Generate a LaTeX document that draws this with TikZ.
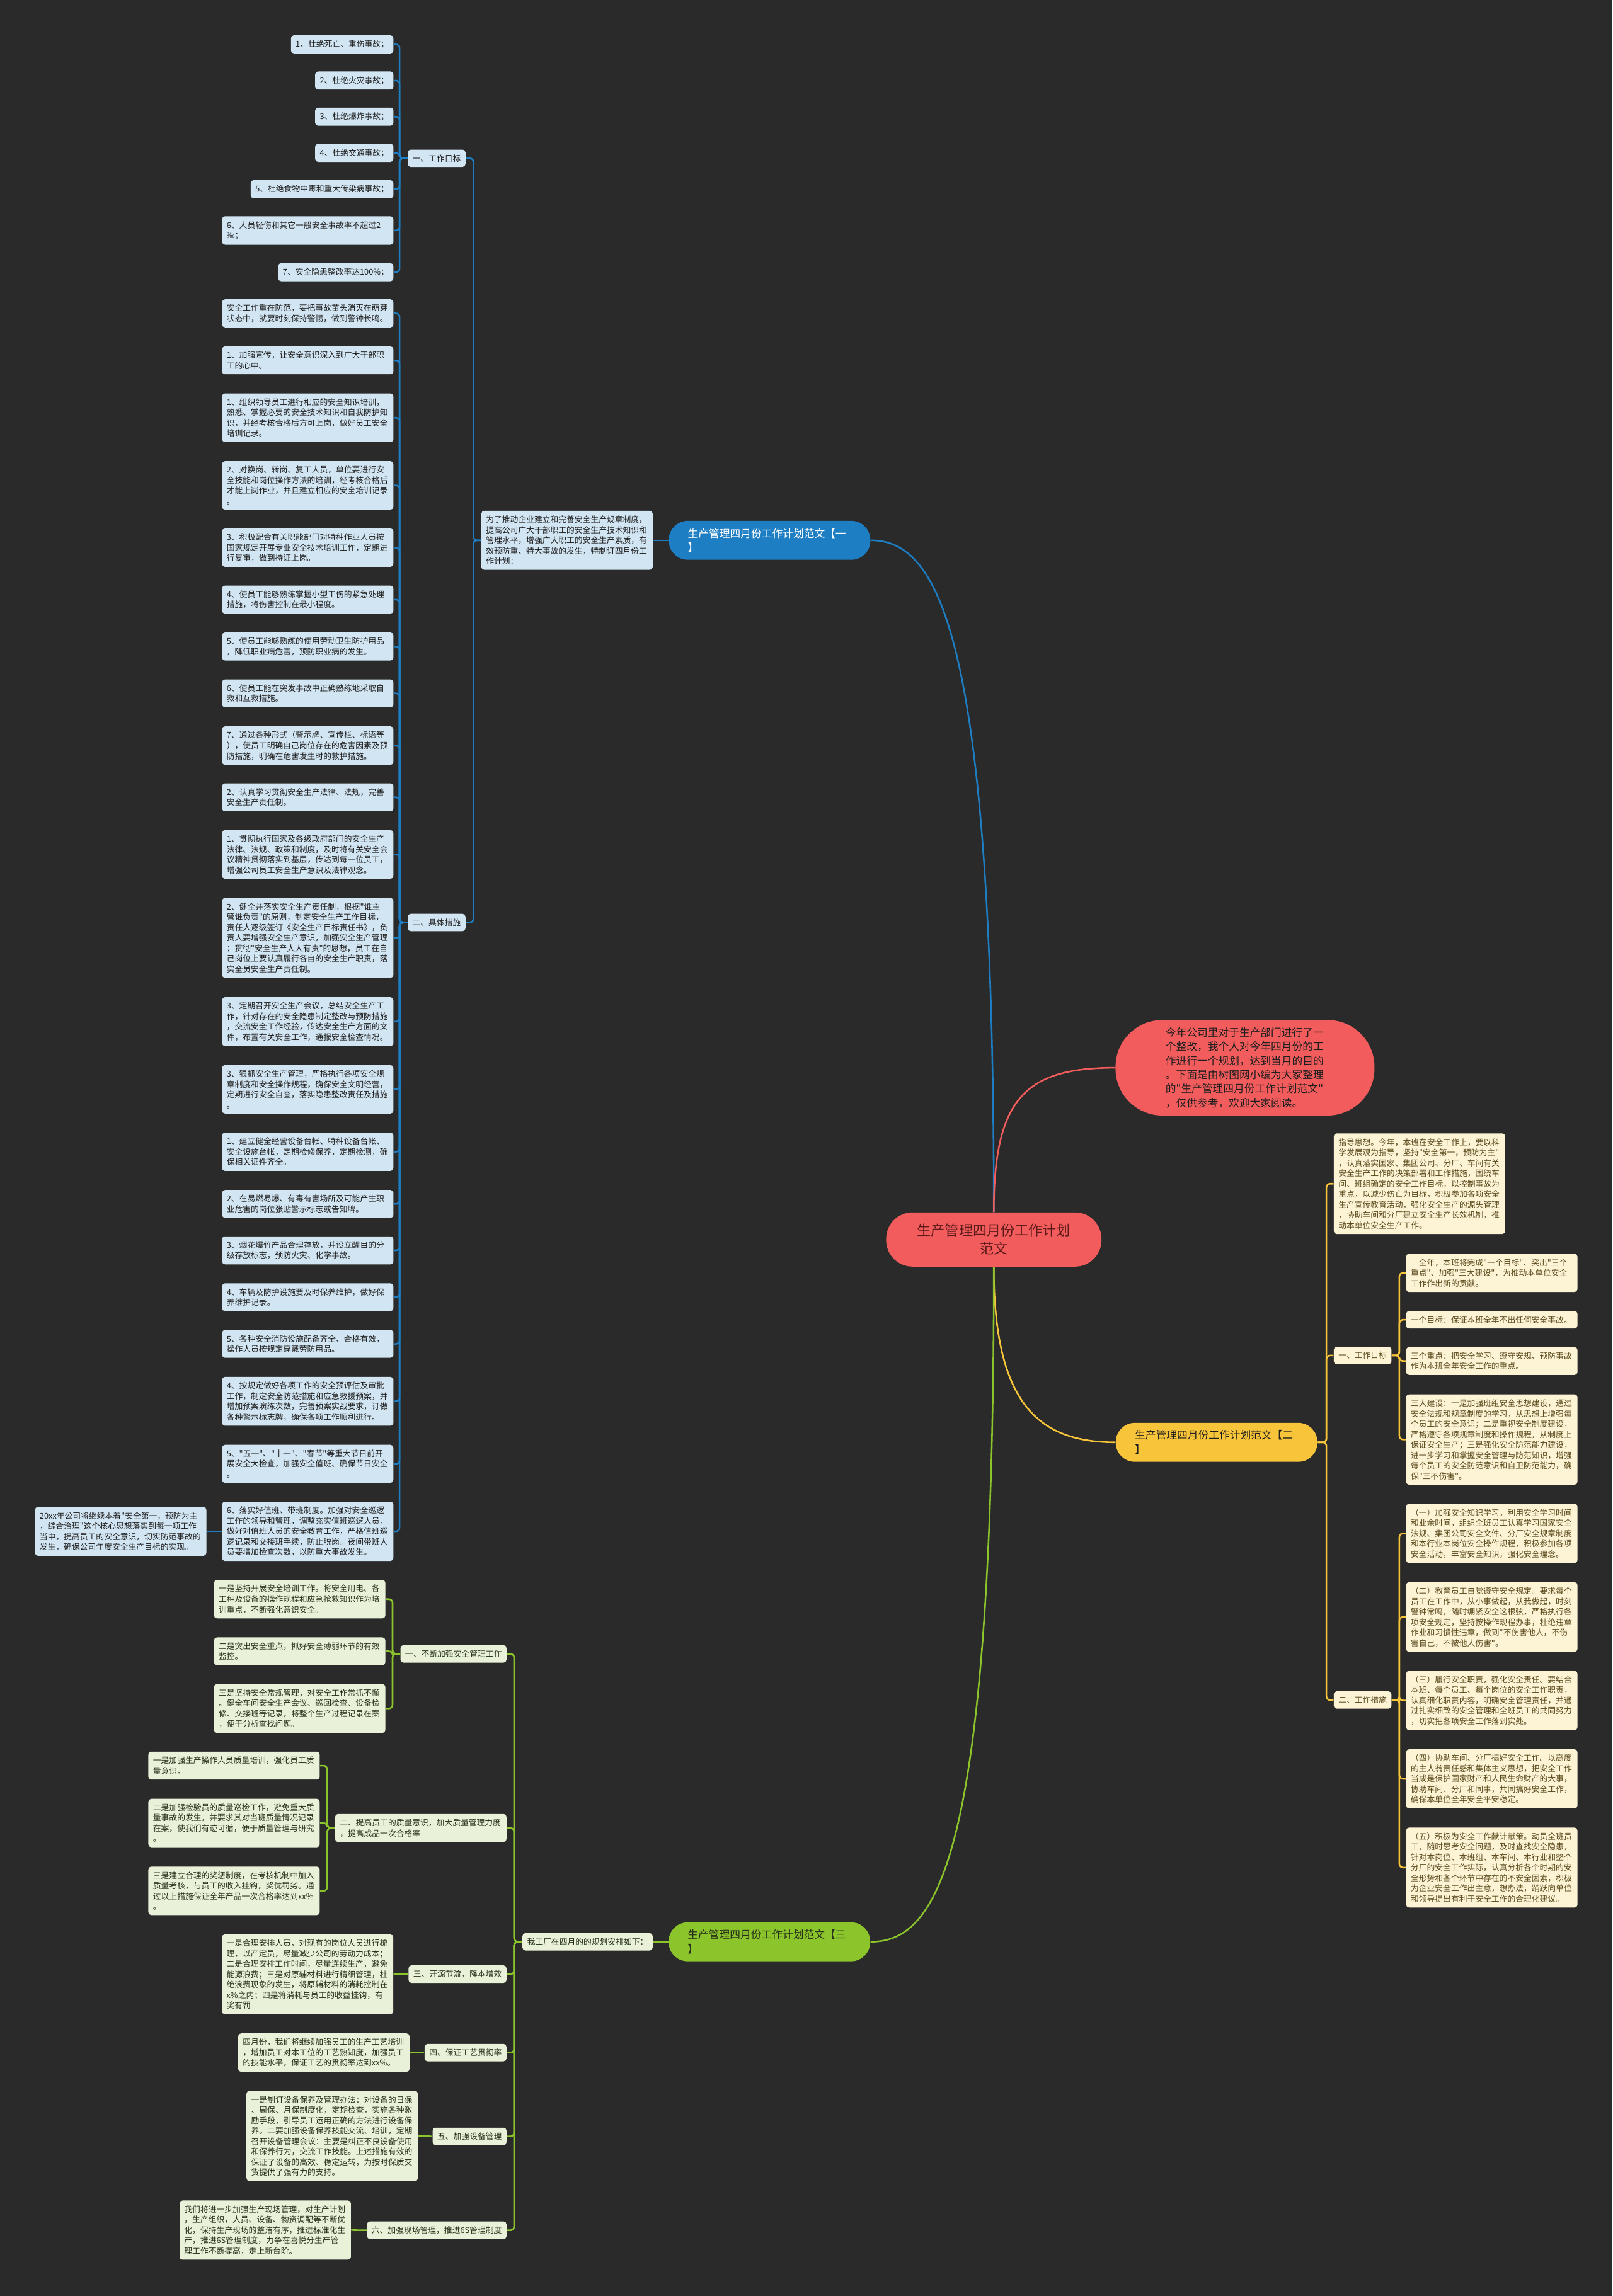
\documentclass[tikz,border=0pt]{standalone}
\usepackage{fontspec}
\setmainfont{Noto Sans CJK SC}[Ligatures=TeXOff]
\usepackage{tikz}
\definecolor{mmbg}{HTML}{2A2A2A}
\definecolor{mmblue}{HTML}{1E7EC3}
\definecolor{mmbluel}{HTML}{D2E5F3}
\definecolor{mmred}{HTML}{F25C5C}
\definecolor{mmdred}{HTML}{5C1A1A}
\definecolor{mmyel}{HTML}{F7C43A}
\definecolor{mmyell}{HTML}{FDF3D5}
\definecolor{mmbrown}{HTML}{5A4A1C}
\definecolor{mmgreen}{HTML}{8CC42C}
\definecolor{mmgreenl}{HTML}{E9F1D8}
\definecolor{mmgdark}{HTML}{26301A}
\definecolor{mmdark}{HTML}{1E1E1E}
\tikzset{
  leaf/.style={inner xsep=3.2pt,inner ysep=3.4pt,font=\fontsize{5.5pt}{7.1pt}\selectfont,align=left,rounded corners=2pt},
  bleaf/.style={leaf,fill=mmbluel,text=mmdark},
  bleafw/.style={bleaf,text width=110.6pt},
  yleaf/.style={leaf,fill=mmyell,text=mmbrown},
  yleafw/.style={yleaf,text width=110.6pt},
  gleaf/.style={leaf,fill=mmgreenl,text=mmgdark},
  gleafw/.style={gleaf,text width=110.6pt},
  pill/.style={font=\fontsize{7.2pt}{9.6pt}\selectfont,align=left,text width=111.6pt,inner xsep=13pt,inner ysep=3pt,minimum height=26.6pt,rounded corners=13pt},
  cnode/.style={fill=mmred,text=mmdred,font=\fontsize{9.5pt}{12.5pt}\selectfont,align=center,text width=105pt,inner xsep=0pt,minimum width=147pt,minimum height=37pt,rounded corners=18pt},
  intro/.style={fill=mmred,text=mmdark,font=\fontsize{7.2pt}{9.6pt}\selectfont,align=left,text width=108.5pt,inner xsep=0pt,minimum width=176.8pt,minimum height=65.2pt,rounded corners=32pt},
  bline/.style={draw=mmblue,line width=1.1pt,rounded corners=2.5pt},
  yline/.style={draw=mmyel,line width=1.1pt,rounded corners=2.5pt},
  gline/.style={draw=mmgreen,line width=1.1pt,rounded corners=2.5pt},
  rline/.style={draw=mmred,line width=1.1pt},
}
\begin{document}
\begin{tikzpicture}[x=1pt,y=-1pt]
  \fill[mmbg] (0,0) rectangle (1101,1568);
  \useasboundingbox (0,0) rectangle (1101,1568);
  \node[cnode] (cen) at (678.5,846.5) {生产管理四月份工作计划\\范文};
  \node[intro] (intro) at (850,729.2) {今年公司里对于生产部门进行了一\\个整改，我个人对今年四月份的工\\作进行一个规划，达到当月的目的\\。下面是由树图网小编为大家整理\\的"生产管理四月份工作计划范文"\\，仅供参考，欢迎大家阅读。};
  \node[pill,fill=mmblue,text=white] (b1) at (525.4,369) {生产管理四月份工作计划范文【一\\】};
  \node[pill,fill=mmyel,text=mmdark] (b2) at (830.6,985) {生产管理四月份工作计划范文【二\\】};
  \node[pill,fill=mmgreen,text=mmgdark] (b3) at (525.3,1326.1) {生产管理四月份工作计划范文【三\\】};

  \node[bleafw,anchor=east] (b1t) at (445.8,369) {为了推动企业建立和完善安全生产规章制度，\\提高公司广大干部职工的安全生产技术知识和\\管理水平，增强广大职工的安全生产素质，有\\效预防重、特大事故的发生，特制订四月份工\\作计划：};
  \node[bleaf,anchor=east] (b1g) at (318,108.1) {一、工作目标};
  \node[bleaf,anchor=east] (b1m) at (318,630) {二、具体措施};
  \node[bleaf,anchor=east] (ga1) at (268.8,30.3) {1、杜绝死亡、重伤事故；};
  \node[bleaf,anchor=east] (ga2) at (268.8,55) {2、杜绝火灾事故；};
  \node[bleaf,anchor=east] (ga3) at (268.8,79.7) {3、杜绝爆炸事故；};
  \node[bleaf,anchor=east] (ga4) at (268.8,104.4) {4、杜绝交通事故；};
  \node[bleaf,anchor=east] (ga5) at (268.8,129.2) {5、杜绝食物中毒和重大传染病事故；};
  \node[bleafw,anchor=east] (ga6) at (268.8,157.4) {6、人员轻伤和其它一般安全事故率不超过2\\‰；};
  \node[bleaf,anchor=east] (ga7) at (268.8,185.9) {7、安全隐患整改率达100\%；};

  \node[bleafw,anchor=east] (cs1) at (268.8,214) {安全工作重在防范，要把事故苗头消灭在萌芽\\状态中，就要时刻保持警惕，做到警钟长鸣。};
  \node[bleafw,anchor=east] (cs2) at (268.8,246.1) {1、加强宣传，让安全意识深入到广大干部职\\工的心中。};
  \node[bleafw,anchor=east] (cs3) at (268.8,285.3) {1、组织领导员工进行相应的安全知识培训，\\熟悉、掌握必要的安全技术知识和自我防护知\\识，并经考核合格后方可上岗，做好员工安全\\培训记录。};
  \node[bleafw,anchor=east] (cs4) at (268.8,331.5) {2、对换岗、转岗、复工人员，单位要进行安\\全技能和岗位操作方法的培训，经考核合格后\\才能上岗作业，并且建立相应的安全培训记录\\。};
  \node[bleafw,anchor=east] (cs5) at (268.8,374) {3、积极配合有关职能部门对特种作业人员按\\国家规定开展专业安全技术培训工作，定期进\\行复审，做到持证上岗。};
  \node[bleafw,anchor=east] (cs6) at (268.8,409.5) {4、使员工能够熟练掌握小型工伤的紧急处理\\措施，将伤害控制在最小程度。};
  \node[bleafw,anchor=east] (cs7) at (268.8,441.5) {5、使员工能够熟练的使用劳动卫生防护用品\\，降低职业病危害，预防职业病的发生。};
  \node[bleafw,anchor=east] (cs8) at (268.8,473.5) {6、使员工能在突发事故中正确熟练地采取自\\救和互救措施。};
  \node[bleafw,anchor=east] (cs9) at (268.8,509.2) {7、通过各种形式（警示牌、宣传栏、标语等\\），使员工明确自己岗位存在的危害因素及预\\防措施，明确在危害发生时的救护措施。};
  \node[bleafw,anchor=east] (cs10) at (268.8,544.5) {2、认真学习贯彻安全生产法律、法规，完善\\安全生产责任制。};
  \node[bleafw,anchor=east] (cs11) at (268.8,583.5) {1、贯彻执行国家及各级政府部门的安全生产\\法律、法规、政策和制度，及时将有关安全会\\议精神贯彻落实到基层，传达到每一位员工，\\增强公司员工安全生产意识及法律观念。};
  \node[bleafw,anchor=east] (cs12) at (268.8,640.5) {2、健全并落实安全生产责任制，根据"谁主\\管谁负责"的原则，制定安全生产工作目标，\\责任人逐级签订《安全生产目标责任书》，负\\责人要增强安全生产意识，加强安全生产管理\\；贯彻"安全生产人人有责"的思想，员工在自\\己岗位上要认真履行各自的安全生产职责，落\\实全员安全生产责任制。};
  \node[bleafw,anchor=east] (cs13) at (268.8,697.7) {3、定期召开安全生产会议，总结安全生产工\\作，针对存在的安全隐患制定整改与预防措施\\，交流安全工作经验，传达安全生产方面的文\\件，布置有关安全工作，通报安全检查情况。};
  \node[bleafw,anchor=east] (cs14) at (268.8,743.9) {3、狠抓安全生产管理，严格执行各项安全规\\章制度和安全操作规程，确保安全文明经营，\\定期进行安全自查，落实隐患整改责任及措施\\。};
  \node[bleafw,anchor=east] (cs15) at (268.8,786.6) {1、建立健全经营设备台帐、特种设备台帐、\\安全设施台帐，定期检修保养，定期检测，确\\保相关证件齐全。};
  \node[bleafw,anchor=east] (cs16) at (268.8,822.2) {2、在易燃易爆、有毒有害场所及可能产生职\\业危害的岗位张贴警示标志或告知牌。};
  \node[bleafw,anchor=east] (cs17) at (268.8,853.9) {3、烟花爆竹产品合理存放，并设立醒目的分\\级存放标志，预防火灾、化学事故。};
  \node[bleafw,anchor=east] (cs18) at (268.8,885.9) {4、车辆及防护设施要及时保养维护，做好保\\养维护记录。};
  \node[bleafw,anchor=east] (cs19) at (268.8,917.8) {5、各种安全消防设施配备齐全、合格有效，\\操作人员按规定穿戴劳防用品。};
  \node[bleafw,anchor=east] (cs20) at (268.8,957) {4、按规定做好各项工作的安全预评估及审批\\工作，制定安全防范措施和应急救援预案，并\\增加预案演练次数，完善预案实战要求，订做\\各种警示标志牌，确保各项工作顺利进行。};
  \node[bleafw,anchor=east] (cs21) at (268.8,999.7) {5、"五一"、"十一"、"春节"等重大节日前开\\展安全大检查，加强安全值班、确保节日安全\\。};
  \node[bleafw,anchor=east] (cs22) at (268.8,1045.8) {6、落实好值班、带班制度。加强对安全巡逻\\工作的领导和管理，调整充实值班巡逻人员，\\做好对值班人员的安全教育工作，严格值班巡\\逻记录和交接班手续，防止脱岗。夜间带班人\\员要增加检查次数，以防重大事故发生。};
  \node[bleafw,anchor=east] (cs23) at (141.1,1045.8) {20xx年公司将继续本着"安全第一，预防为主\\，综合治理"这个核心思想落实到每一项工作\\当中，提高员工的安全意识，切实防范事故的\\发生，确保公司年度安全生产目标的实现。};

  \node[yleafw,anchor=west] (b2s) at (910.4,808.4) {指导思想。今年，本班在安全工作上，要以科\\学发展观为指导，坚持"安全第一，预防为主"\\，认真落实国家、集团公司、分厂、车间有关\\安全生产工作的决策部署和工作措施，围绕车\\间、班组确定的安全工作目标，以控制事故为\\重点，以减少伤亡为目标，积极参加各项安全\\生产宣传教育活动，强化安全生产的源头管理\\，协助车间和分厂建立安全生产长效机制，推\\动本单位安全生产工作。};
  \node[yleaf,anchor=west] (b2g) at (910.4,925.7) {一、工作目标};
  \node[yleaf,anchor=west] (b2m) at (910.4,1161) {二、工作措施};
  \node[yleafw,anchor=west] (yg1) at (959.8,869.3) {\hspace*{1em}全年，本班将完成"一个目标"、突出"三个\\重点"、加强"三大建设"，为推动本单位安全\\工作作出新的贡献。};
  \node[yleafw,anchor=west] (yg2) at (959.8,901.3) {一个目标：保证本班全年不出任何安全事故。};
  \node[yleafw,anchor=west] (yg3) at (959.8,929.5) {三个重点：把安全学习、遵守安规、预防事故\\作为本班全年安全工作的重点。};
  \node[yleafw,anchor=west] (yg4) at (959.8,983.1) {三大建设：一是加强班组安全思想建设，通过\\安全法规和规章制度的学习，从思想上增强每\\个员工的安全意识；二是重视安全制度建设，\\严格遵守各项规章制度和操作规程，从制度上\\保证安全生产；三是强化安全防范能力建设，\\进一步学习和掌握安全管理与防范知识，增强\\每个员工的安全防范意识和自卫防范能力，确\\保"三不伤害"。};
  \node[yleafw,anchor=west] (ym1) at (959.8,1047.2) {（一）加强安全知识学习。利用安全学习时间\\和业余时间，组织全班员工认真学习国家安全\\法规、集团公司安全文件、分厂安全规章制度\\和本行业本岗位安全操作规程，积极参加各项\\安全活动，丰富安全知识，强化安全理念。};
  \node[yleafw,anchor=west] (ym2) at (959.8,1104.3) {（二）教育员工自觉遵守安全规定。要求每个\\员工在工作中，从小事做起，从我做起，时刻\\警钟常鸣，随时绷紧安全这根弦，严格执行各\\项安全规定，坚持按操作规程办事，杜绝违章\\作业和习惯性违章，做到"不伤害他人，不伤\\害自己，不被他人伤害"。};
  \node[yleafw,anchor=west] (ym3) at (959.8,1161.3) {（三）履行安全职责，强化安全责任。要结合\\本班、每个员工、每个岗位的安全工作职责，\\认真细化职责内容，明确安全管理责任，并通\\过扎实细致的安全管理和全班员工的共同努力\\，切实把各项安全工作落到实处。};
  \node[yleafw,anchor=west] (ym4) at (959.8,1214.8) {（四）协助车间、分厂搞好安全工作。以高度\\的主人翁责任感和集体主义思想，把安全工作\\当成是保护国家财产和人民生命财产的大事，\\协助车间、分厂和同事，共同搞好安全工作，\\确保本单位全年安全平安稳定。};
  \node[yleafw,anchor=west] (ym5) at (959.8,1275.4) {（五）积极为安全工作献计献策。动员全班员\\工，随时思考安全问题，及时查找安全隐患，\\针对本岗位、本班组、本车间、本行业和整个\\分厂的安全工作实际，认真分析各个时期的安\\全形势和各个环节中存在的不安全因素，积极\\为企业安全工作出主意，想办法，踊跃向单位\\和领导提出有利于安全工作的合理化建议。};

  \node[gleaf,anchor=east] (b3t) at (445.8,1326.1) {我工厂在四月的的规划安排如下：};
  \node[gleaf,anchor=east] (gr1) at (346,1129.5) {一、不断加强安全管理工作};
  \node[gleafw,anchor=east] (gr2) at (346,1248.4) {二、提高员工的质量意识，加大质量管理力度\\，提高成品一次合格率};
  \node[gleaf,anchor=east] (gr3) at (346,1348.2) {三、开源节流，降本增效};
  \node[gleaf,anchor=east] (gr4) at (346,1401.8) {四、保证工艺贯彻率};
  \node[gleaf,anchor=east] (gr5) at (346,1459) {五、加强设备管理};
  \node[gleaf,anchor=east] (gr6) at (346,1523.1) {六、加强现场管理，推进6S管理制度};
  \node[gleafw,anchor=east] (gr1a) at (263.3,1092.1) {一是坚持开展安全培训工作。将安全用电、各\\工种及设备的操作规程和应急抢救知识作为培\\训重点，不断强化意识安全。};
  \node[gleafw,anchor=east] (gr1b) at (263.3,1127.7) {二是突出安全重点，抓好安全薄弱环节的有效\\监控。};
  \node[gleafw,anchor=east] (gr1c) at (263.3,1166.8) {三是坚持安全常规管理，对安全工作常抓不懈\\。健全车间安全生产会议、巡回检查、设备检\\修、交接班等记录，将整个生产过程记录在案\\，便于分析查找问题。};
  \node[gleafw,anchor=east] (gr2a) at (218.5,1205.8) {一是加强生产操作人员质量培训，强化员工质\\量意识。};
  \node[gleafw,anchor=east] (gr2b) at (218.5,1245) {二是加强检验员的质量巡检工作，避免重大质\\量事故的发生，并要求其对当班质量情况记录\\在案，使我们有迹可循，便于质量管理与研究\\。};
  \node[gleafw,anchor=east] (gr2c) at (218.5,1291.3) {三是建立合理的奖惩制度，在考核机制中加入\\质量考核，与员工的收入挂钩，奖优罚劣。通\\过以上措施保证全年产品一次合格率达到xx\%\\。};
  \node[gleafw,anchor=east] (gr3a) at (268.7,1348.3) {一是合理安排人员，对现有的岗位人员进行梳\\理，以产定员，尽量减少公司的劳动力成本；\\二是合理安排工作时间，尽量连续生产，避免\\能源浪费；三是对原辅材料进行精细管理，杜\\绝浪费现象的发生，将原辅材料的消耗控制在\\x\%之内；四是将消耗与员工的收益挂钩，有\\奖有罚};
  \node[gleafw,anchor=east] (gr4a) at (279.8,1401.8) {四月份，我们将继续加强员工的生产工艺培训\\，增加员工对本工位的工艺熟知度，加强员工\\的技能水平，保证工艺的贯彻率达到xx\%。};
  \node[gleafw,anchor=east] (gr5a) at (285.5,1458.7) {一是制订设备保养及管理办法：对设备的日保\\、周保、月保制度化，定期检查，实施各种激\\励手段，引导员工运用正确的方法进行设备保\\养。二要加强设备保养技能交流、培训，定期\\召开设备管理会议：主要是纠正不良设备使用\\和保养行为，交流工作技能。上述措施有效的\\保证了设备的高效、稳定运转，为按时保质交\\货提供了强有力的支持。};
  \node[gleafw,anchor=east] (gr6a) at (239.8,1523) {我们将进一步加强生产现场管理，对生产计划\\，生产组织，人员、设备、物资调配等不断优\\化，保持生产现场的整洁有序，推进标准化生\\产，推进6S管理制度，力争在喜悦分生产管\\理工作不断提高，走上新台阶。};

  \draw[bline] (cen.north) .. controls (678.5,430) and (640,369) .. (b1.east);
  \draw[rline] (cen.north) .. controls (678.5,750) and (700,729.2) .. (intro.west);
  \draw[yline] (cen.south) .. controls (678.5,960) and (710,985) .. (b2.west);
  \draw[gline] (cen.south) .. controls (678.5,1270) and (640,1326.1) .. (b3.east);

  \draw[bline] (b1.west) -- (b1t.east);
  \draw[bline] (b1t.west) -- ++(-5.2,0) |- (b1g.east);
  \draw[bline] (b1t.west) -- ++(-5.2,0) |- (b1m.east);
  \foreach \i in {1,...,7}
    \draw[bline] (b1g.west) -- ++(-5.4,0) |- (ga\i.east);
  \foreach \i in {1,...,22}
    \draw[bline] (b1m.west) -- ++(-5.4,0) |- (cs\i.east);
  \draw[bline] (cs22.west) -- (cs23.east);

  \foreach \n in {b2s,b2g,b2m}
    \draw[yline] (b2.east) -- ++(6,0) |- (\n.west);
  \foreach \i in {1,...,4}
    \draw[yline] (b2g.east) -- ++(5.2,0) |- (yg\i.west);
  \foreach \i in {1,...,5}
    \draw[yline] (b2m.east) -- ++(5.2,0) |- (ym\i.west);

  \draw[gline] (b3.west) -- (b3t.east);
  \foreach \i in {1,...,6}
    \draw[gline] (b3t.west) -- ++(-5.5,0) |- (gr\i.east);
  \foreach \s in {a,b,c}
    \draw[gline] (gr1.west) -- ++(-5.2,0) |- (gr1\s.east);
  \foreach \s in {a,b,c}
    \draw[gline] (gr2.west) -- ++(-5.2,0) |- (gr2\s.east);
  \draw[gline] (gr3.west) -- (gr3a.east);
  \draw[gline] (gr4.west) -- (gr4a.east);
  \draw[gline] (gr5.west) -- (gr5a.east);
  \draw[gline] (gr6.west) -- (gr6a.east);
\end{tikzpicture}
\end{document}
